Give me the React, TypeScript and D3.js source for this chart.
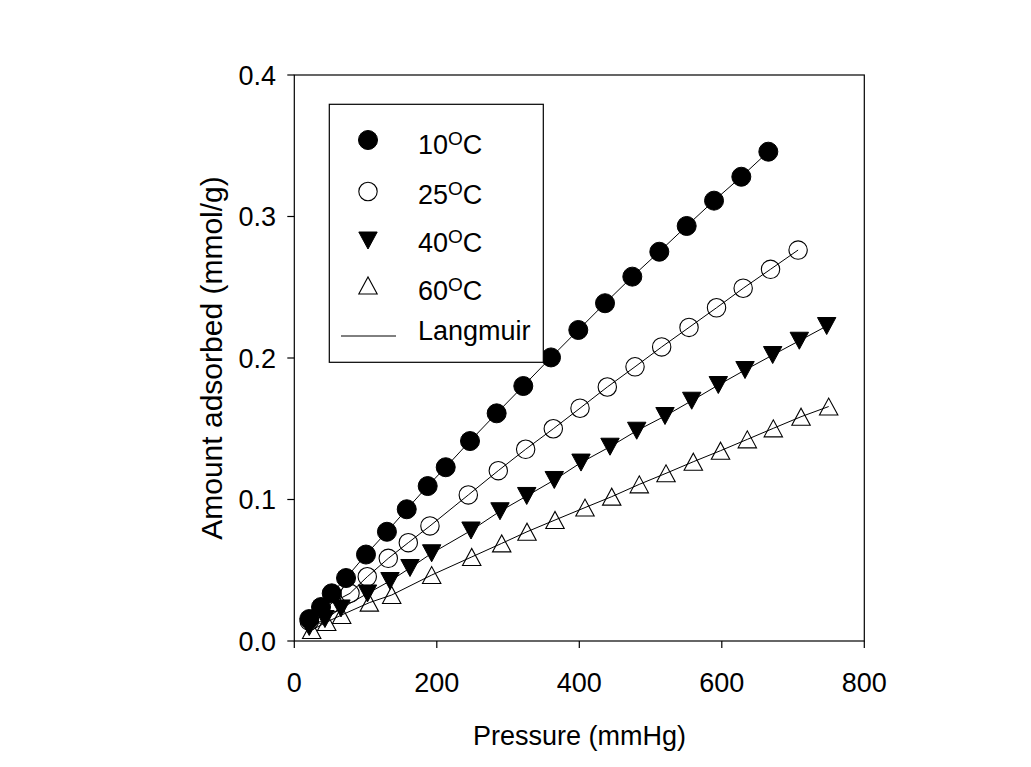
import React from "react";
import * as d3 from "d3";

const p10 = [21, 37.5, 52.5, 72.6, 100.6, 130, 157.8, 187.2, 212.5, 246.6, 284, 321.4, 360.3, 398.6, 436.1, 474.4, 512.3, 550.7, 589.1, 627.4, 665.3];
const q10 = [0.0155, 0.024, 0.0337, 0.0445, 0.0611, 0.0772, 0.0931, 0.1095, 0.1228, 0.1413, 0.1609, 0.1802, 0.2004, 0.2198, 0.2387, 0.2575, 0.2751, 0.2933, 0.3112, 0.3281, 0.3458];

const p25 = [21, 36, 53, 78.2, 102.4, 131.9, 160, 190.4, 244.2, 286.3, 324.7, 363.5, 401, 439.3, 478.2, 515.6, 554, 592.6, 630, 668.4, 707.1];
const q25 = [0.014, 0.019, 0.027, 0.0337, 0.0454, 0.0584, 0.0695, 0.0813, 0.1032, 0.1204, 0.1355, 0.15, 0.1645, 0.1795, 0.1938, 0.2078, 0.2216, 0.2355, 0.2493, 0.2627, 0.2763];

const p40 = [21, 43, 65.5, 102.7, 134.3, 162.4, 192.8, 248, 288.7, 326.2, 364.9, 402.4, 443.1, 480.6, 520.3, 557.8, 595.1, 632.6, 671.4, 708.8, 747.2];
const q40 = [0.0099, 0.0155, 0.023, 0.0336, 0.0424, 0.0516, 0.062, 0.0781, 0.0917, 0.1025, 0.1138, 0.1261, 0.1373, 0.1486, 0.159, 0.1698, 0.1809, 0.1915, 0.2021, 0.2122, 0.2226];

const p60 = [24.4, 45.5, 66.5, 105.3, 136.7, 192.8, 249, 291.1, 326.6, 365.9, 408, 445.5, 484.2, 521.7, 560, 598.2, 635.8, 672.3, 711.2, 750];
const q60 = [0.0078, 0.0134, 0.0184, 0.0271, 0.0325, 0.0466, 0.0594, 0.069, 0.0772, 0.0855, 0.0943, 0.102, 0.1107, 0.1185, 0.1267, 0.1345, 0.1425, 0.1503, 0.1585, 0.1657];

const xTicks = [0, 200, 400, 600, 800];
const yTicks = [0.0, 0.1, 0.2, 0.3, 0.4];
const legendTemps = ["10", "25", "40", "60"];

type Sym = "fcircle" | "ocircle" | "dtri" | "utri";
const series: { p: number[]; q: number[]; sym: Sym }[] = [
  { p: p10, q: q10, sym: "fcircle" },
  { p: p25, q: q25, sym: "ocircle" },
  { p: p40, q: q40, sym: "dtri" },
  { p: p60, q: q60, sym: "utri" },
];

const FONT = "'Liberation Sans', Arial, sans-serif";

function Marker({ sym, cx, cy }: { sym: Sym; cx: number; cy: number }) {
  if (sym === "fcircle") return <circle cx={cx} cy={cy} r={9.5} fill="#000" stroke="#000" strokeWidth={1} />;
  if (sym === "ocircle") return <circle cx={cx} cy={cy} r={9.2} fill="none" stroke="#000" strokeWidth={1.1} />;
  const w = 9.2, h = 8.5;
  if (sym === "dtri")
    return <polygon points={`${cx - w},${cy - h} ${cx + w},${cy - h} ${cx},${cy + h}`} fill="#000" stroke="#000" strokeWidth={1} />;
  return <polygon points={`${cx - w},${cy + h} ${cx + w},${cy + h} ${cx},${cy - h}`} fill="none" stroke="#000" strokeWidth={1.1} />;
}

export default function App() {
  const x = d3.scaleLinear().domain([0, 800]).range([294.3, 864.3]);
  const y = d3.scaleLinear().domain([0, 0.4]).range([641, 75]);
  const line = d3.line<number>();

  const legendX = 368;
  const legendRows = [140, 191.5, 240.5, 285.5];
  const legendBase = [154, 204, 252, 300];

  return (
    <svg width={1031} height={767} style={{ position: "absolute", left: 0, top: 0, background: "#fff" }} fontFamily={FONT}>
      <rect x={0} y={0} width={1031} height={767} fill="#fff" />
      {/* frame */}
      <rect x={x(0)} y={y(0.4)} width={x(800) - x(0)} height={y(0) - y(0.4)} fill="none" stroke="#000" strokeWidth={1.2} />
      {/* x ticks */}
      {xTicks.map((t) => (
        <g key={"xt" + t}>
          <line x1={x(t)} x2={x(t)} y1={y(0)} y2={y(0) + 7} stroke="#000" strokeWidth={1.2} />
          <text x={x(t)} y={692} textAnchor="middle" fontSize={27}>{t}</text>
        </g>
      ))}
      {yTicks.map((t) => (
        <g key={"yt" + t}>
          <line x1={x(0) - 7} x2={x(0)} y1={y(t)} y2={y(t)} stroke="#000" strokeWidth={1.2} />
          <text x={276} y={y(t) + 9.5} textAnchor="end" fontSize={27}>{t.toFixed(1)}</text>
        </g>
      ))}
      <text x={579.5} y={745} textAnchor="middle" fontSize={27}>Pressure (mmHg)</text>
      <text transform="translate(222,358) rotate(-90)" textAnchor="middle" fontSize={30}>Amount adsorbed (mmol/g)</text>

      {/* fit lines */}
      {series.map((s, i) => (
        <path key={"l" + i} d={line(s.p.map((pv, j) => [x(pv), y(s.q[j])]) as any) || ""} fill="none" stroke="#000" strokeWidth={1} />
      ))}
      {/* markers */}
      {series.map((s, i) => (
        <g key={"m" + i}>
          {s.p.map((pv, j) => (
            <Marker key={j} sym={s.sym} cx={x(pv)} cy={y(s.q[j])} />
          ))}
        </g>
      ))}

      {/* legend */}
      <rect x={329.3} y={104.3} width={214} height={258} fill="#fff" stroke="#000" strokeWidth={1.2} />
      {series.map((s, i) => (
        <g key={"lg" + i}>
          <Marker sym={s.sym} cx={legendX} cy={legendRows[i]} />
          <text x={418} y={legendBase[i]} fontSize={27}>
            {legendTemps[i]}
            <tspan fontSize={19} dy={-9}>O</tspan>
            <tspan fontSize={27} dy={9}>C</tspan>
          </text>
        </g>
      ))}
      <line x1={341} x2={396} y1={336} y2={336} stroke="#000" strokeWidth={1} />
      <text x={418} y={340} fontSize={27}>Langmuir</text>
    </svg>
  );
}
